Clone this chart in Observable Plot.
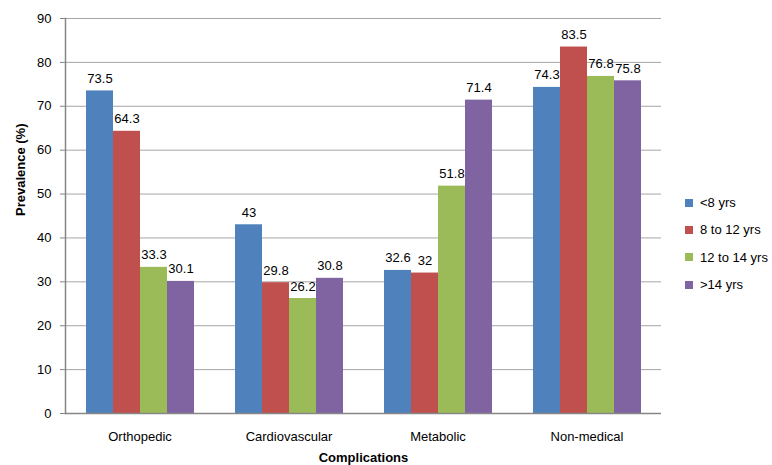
<!DOCTYPE html>
<html>
<head>
<meta charset="utf-8">
<script src="https://cdn.jsdelivr.net/npm/d3@7"></script>
<script src="https://cdn.jsdelivr.net/npm/@observablehq/plot@0.6"></script>
<style>
  body { margin: 0; background: #fff; font-family: "Liberation Sans", Arial, sans-serif; }
  #wrap { position: relative; width: 772px; height: 465px; }
  #legend { position: absolute; left: 685px; top: 189px; font-size: 13px; color: #000; }
  .item { display: flex; align-items: center; height: 27.3px; }
  .sw { width: 8px; height: 8px; margin-right: 7px; }
</style>
</head>
<body>
<div id="wrap"><div id="legend"></div></div>
<script>
const categories = ["Orthopedic", "Cardiovascular", "Metabolic", "Non-medical"];
const groups = ["<8 yrs", "8 to 12 yrs", "12 to 14 yrs", ">14 yrs"];
const colors = ["#4F81BD", "#C0504D", "#9BBB59", "#8064A2"];
const valuesUnder8 = [73.5, 43, 32.6, 74.3];
const values8to12 = [64.3, 29.8, 32, 83.5];
const values12to14 = [33.3, 26.2, 51.8, 76.8];
const valuesOver14 = [30.1, 30.8, 71.4, 75.8];
const yTicks = [0, 10, 20, 30, 40, 50, 60, 70, 80, 90];

const series = [valuesUnder8, values8to12, values12to14, valuesOver14];
const data = [];
categories.forEach((c, i) => groups.forEach((g, j) => data.push({cat: c, group: g, value: series[j][i]})));

const font = "Liberation Sans, Arial, sans-serif";
const chart = Plot.plot({
  width: 772,
  height: 465,
  marginLeft: 63,
  marginRight: 110,
  marginTop: 18,
  marginBottom: 52,
  style: {fontFamily: font, fontSize: "13px", color: "#000", background: "#fff"},
  fx: {domain: categories, padding: 0, label: null},
  x: {domain: groups, paddingInner: 0, paddingOuter: 0.748, axis: null},
  y: {domain: [0, 90], axis: null},
  color: {domain: groups, range: colors},
  marks: [
    Plot.ruleY(yTicks.slice(1), {stroke: "#a6a6a6"}),
    Plot.barY(data, {fx: "cat", x: "group", y: "value", fill: "group"}),
    Plot.text(data, {fx: "cat", x: "group", y: "value", text: d => String(d.value), lineAnchor: "bottom", dy: -8, fill: "#000", fontSize: 13}),
    Plot.ruleY([0], {stroke: "#868686", strokeWidth: 1.5}),
    Plot.frame({anchor: "left", stroke: "#868686", strokeWidth: 1.5, facet: "super"}),
    Plot.axisY({ticks: yTicks, tickSize: 5, tickPadding: 9, stroke: "#868686", label: null, fontSize: 13}),
    Plot.axisFx({anchor: "bottom", tickSize: 0, tickPadding: 18, label: null, fontSize: 13}),
    Plot.text(["Complications"], {frameAnchor: "bottom", dy: 48, fontWeight: "bold", fontSize: 13, facet: "super"}),
    Plot.text(["Prevalence (%)"], {frameAnchor: "left", dx: -45, rotate: -90, fontWeight: "bold", fontSize: 13, facet: "super"})
  ]
});
document.getElementById("wrap").prepend(chart);

const legend = d3.select("#legend");
groups.forEach((g, i) => {
  const it = legend.append("div").attr("class", "item");
  it.append("div").attr("class", "sw").style("background", colors[i]);
  it.append("span").text(g);
});
</script>
</body>
</html>
